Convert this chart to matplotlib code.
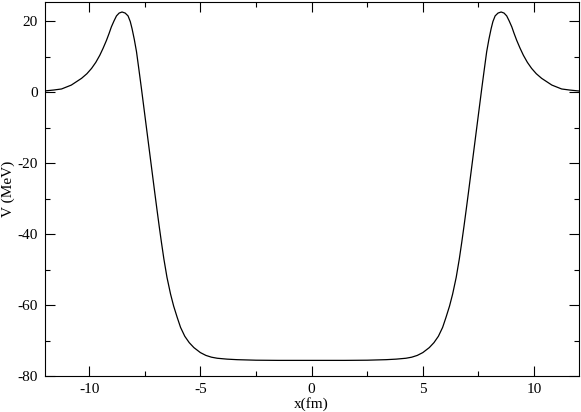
import matplotlib
matplotlib.use("Agg")
import matplotlib.pyplot as plt
import numpy as np
from matplotlib.ticker import MultipleLocator

# left half of the potential (x in fm, V in MeV)
x_left = [-12.0, -11.6, -11.24, -10.8, -10.34, -10.1, -9.89, -9.7, -9.52, -9.37,
          -9.22, -9.1, -9.0, -8.88, -8.77, -8.65, -8.52, -8.38, -8.25, -8.15,
          -8.07, -7.97, -7.87, -7.76, -7.65, -7.55, -7.45, -7.35, -7.25, -7.15,
          -7.05, -6.95, -6.85, -6.75, -6.64, -6.5, -6.34, -6.2, -6.04, -5.89,
          -5.7, -5.5, -5.29, -5.0, -4.75, -4.5, -4.24, -3.8, -3.35, -2.5,
          -1.5, 0.0]
v_left = [0.34, 0.6, 0.9, 2.0, 3.9, 5.2, 6.7, 8.4, 10.4, 12.4,
          14.6, 16.6, 18.4, 20.1, 21.5, 22.3, 22.6, 22.3, 21.5, 19.9,
          17.9, 14.9, 11.4, 6.3, 1.1, -3.8, -8.7, -13.6, -18.5, -23.4,
          -28.3, -33.1, -37.8, -42.3, -47.0, -52.2, -56.9, -60.3, -63.5, -66.3,
          -68.8, -70.6, -72.0, -73.4, -74.2, -74.7, -75.0, -75.25, -75.4, -75.55,
          -75.6, -75.6]

x = np.array(x_left[:-1] + [-v for v in x_left[::-1]])
v = np.array(v_left[:-1] + v_left[::-1])

plt.rcParams['font.family'] = ['Liberation Serif', 'DejaVu Serif']
plt.rcParams['font.size'] = 11
plt.rcParams['axes.unicode_minus'] = False

fig = plt.figure(figsize=(5.81, 4.12), dpi=100)
ax = fig.add_axes([0.0768, 0.0874, 0.919, 0.9076])
ax.plot(x, v, color='black', lw=0.9)

ax.set_xlim(-12, 12)
ax.set_ylim(-80, 25.4)
ax.xaxis.set_major_locator(MultipleLocator(5))
ax.xaxis.set_minor_locator(MultipleLocator(2.5))
ax.yaxis.set_major_locator(MultipleLocator(20))
ax.yaxis.set_minor_locator(MultipleLocator(10))
ax.tick_params(which='both', direction='in', top=True, right=True, width=0.8)
ax.tick_params(which='major', length=7.5, pad=5)
ax.tick_params(which='minor', length=3.6)
for s in ax.spines.values():
    s.set_linewidth(0.8)

ax.set_xlabel("x(fm)", labelpad=1)
ax.set_ylabel("V (MeV)", labelpad=2)

fig.savefig("out.png", dpi=100)
